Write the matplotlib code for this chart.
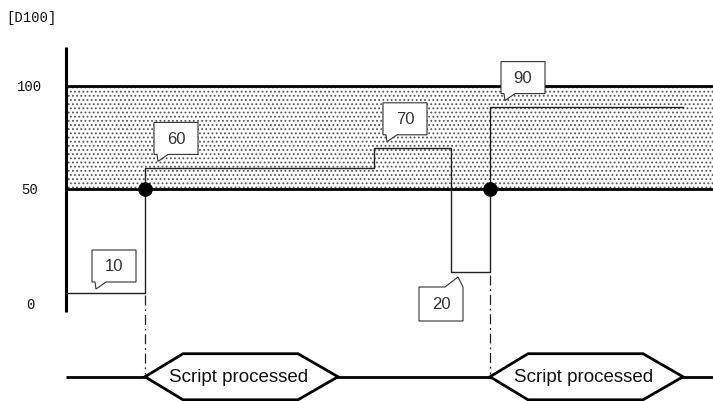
import matplotlib
matplotlib.use("Agg")
import matplotlib.pyplot as plt
import matplotlib.transforms as mtransforms
from matplotlib.patches import Polygon
import numpy as np

# data
times = [0, 79, 308, 385, 424, 617]      # instants where D100 changes (last = end of trace)
levels = [10, 60, 70, 20, 90]            # D100 value of each segment
callout_text = ["10", "60", "70", "20", "90"]
lower_limit, upper_limit = 50, 100
y_ticks = [0, 50, 100]
process_start = [79, 424]
process_len = 193
process_label = "Script processed"

# the chart is not drawn to scale: value -> pixel row of the original drawing
knot_v = np.array([-40, 0, 10, 20, 50, 100, 142.2])
knot_px = np.array([402, 305, 294, 273, 190, 87, 0])


def fwd(v):
    return -np.interp(np.asarray(v, float), knot_v, knot_px)


def inv(f):
    return np.interp(-np.asarray(f, float), knot_px[::-1], knot_v[::-1])


plt.rcParams['hatch.color'] = '#555555'
plt.rcParams['hatch.linewidth'] = 0.8

fig = plt.figure(figsize=(7.13, 4.02), dpi=100)
ax = fig.add_axes([0, 0, 1, 1])
ax.set_yscale('function', functions=(fwd, inv))
ax.set_xlim(-66, 647)
ax.set_ylim(-40, 142.2)
ax.set_axis_off()

x_end = 647
timeline_y = -30
hex_h = 9.5
hex_slope = 38

# band between limits
ax.fill_between([0, x_end], lower_limit, upper_limit, facecolor='white',
                hatch='....', edgecolor='#555555', linewidth=0, zorder=1)
ax.plot([0, x_end], [upper_limit, upper_limit], color='black', lw=2.0, zorder=3,
        solid_capstyle='butt')
ax.plot([0, x_end], [lower_limit, lower_limit], color='black', lw=2.0, zorder=3,
        solid_capstyle='butt')

# y axis
ax.plot([0, 0], [-3.3, 119], color='black', lw=2.2, zorder=4, solid_capstyle='butt')
for t in y_ticks:
    ax.text(-36, t, str(t), ha='center', va='center', fontsize=10,
            family='Liberation Mono', color='#111')
ax.text(-35, 133.5, "[D100]", ha='center', va='center', fontsize=10,
        family='Liberation Mono', color='#111')

# trace
ax.plot(times, levels + [levels[-1]], drawstyle='steps-post', color='#222',
        lw=1.0, zorder=5)

# process start markers and dash-dot drop lines
for s in process_start:
    before = levels[max(i for i, t in enumerate(times[:-1]) if t < s)]
    ax.plot([s, s], [before - 1.5, timeline_y + 1], color='#222', lw=0.9,
            linestyle=(0, (8, 3, 1.5, 3)), zorder=4)
    ax.plot([s], [lower_limit], 'o', color='black', markersize=9.5, zorder=6)

# timeline with hexagons
ax.plot([0, x_end], [timeline_y, timeline_y], color='black', lw=2.0, zorder=2,
        solid_capstyle='butt')
for s in process_start:
    e = s + process_len
    pts = [(s, timeline_y), (s + hex_slope, timeline_y + hex_h),
           (e - hex_slope - 2, timeline_y + hex_h), (e, timeline_y),
           (e - hex_slope - 2, timeline_y - hex_h), (s + hex_slope, timeline_y - hex_h)]
    ax.add_patch(Polygon(pts, closed=True, facecolor='white', edgecolor='black',
                         lw=2.0, zorder=3, joinstyle='miter'))
    ax.text((s + e) / 2 - 3, timeline_y, process_label, ha='center', va='center',
            fontsize=13.5, family='Liberation Sans', color='#111', zorder=4)

# callouts (offsets of the tail tip from segment start, in pixels)
tip_dx = [30, 13, 13, 7, 15]
tip_dy = [4, 7, 6, -5, 6]
up_shape = [(-1, 7), (0, 0), (10, 7), (40, 7), (40, 39), (-4, 39), (-4, 7)]
down_shape = [(-39, -10), (-13, -10), (0, 0), (5, -10), (5, -44), (-39, -44)]
px = 1.0 / fig.dpi
for t0, lvl, txt, dx, dy in zip(times[:-1], levels, callout_text, tip_dx, tip_dy):
    trans = fig.dpi_scale_trans + mtransforms.ScaledTranslation(t0 + dx, lvl, ax.transData)
    if dy >= 0:
        shape = [(a * px, (b + dy) * px) for a, b in up_shape]
        cx, cy = 18, 23 + dy
    else:
        shape = [(a * px, (b + dy) * px) for a, b in down_shape]
        cx, cy = -17, -27 + dy
    ax.add_patch(Polygon(shape, closed=True, transform=trans, facecolor='white',
                         edgecolor='#333', lw=0.8, zorder=7))
    ax.text(cx * px, cy * px, txt, transform=trans, ha='center', va='center',
            fontsize=12, family='Liberation Sans', color='#333', zorder=8)

fig.savefig('out.png', dpi=100)
